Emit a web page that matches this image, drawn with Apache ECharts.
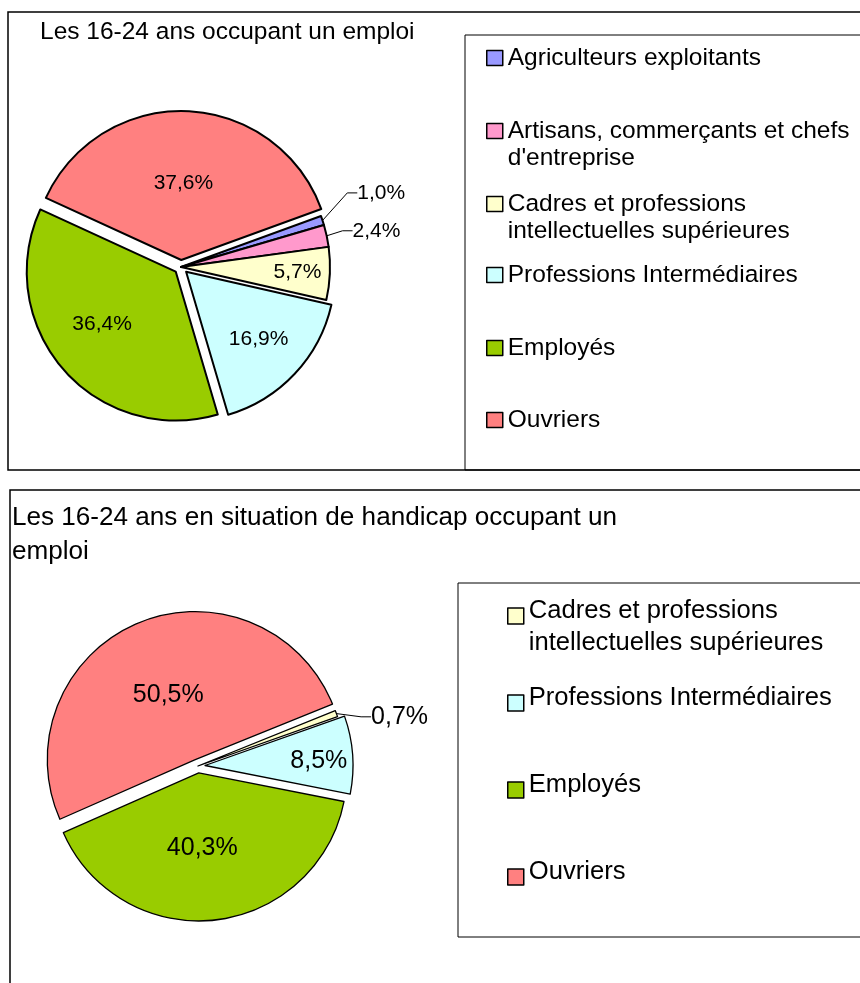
<!DOCTYPE html>
<html>
<head>
<meta charset="utf-8">
<script src="https://cdn.jsdelivr.net/npm/echarts@6/dist/echarts.min.js"></script>
<style>
  html, body { margin: 0; padding: 0; background: #fff; }
  #main { width: 860px; height: 983px; }
</style>
</head>
<body>
<div id="main"></div>
<script>
// données (en %)
var cats1 = ['Agriculteurs exploitants', "Artisans, commerçants et chefs d'entreprise", 'Cadres et professions intellectuelles supérieures', 'Professions Intermédiaires', 'Employés', 'Ouvriers'];
var vals1 = [1.0, 2.4, 5.7, 16.9, 36.4, 37.6];
var cats2 = ['Cadres et professions intellectuelles supérieures', 'Professions Intermédiaires', 'Employés', 'Ouvriers'];
var vals2 = [0.7, 8.5, 40.3, 50.5];
var title1 = 'Les 16-24 ans occupant un emploi';
var title2 = 'Les 16-24 ans en situation de handicap occupant un\nemploi';

var colors = {
  'Agriculteurs exploitants': '#9999FF',
  "Artisans, commerçants et chefs d'entreprise": '#FF99CC',
  'Cadres et professions intellectuelles supérieures': '#FFFFCC',
  'Professions Intermédiaires': '#CCFFFF',
  'Employés': '#99CC00',
  'Ouvriers': '#FF8080'
};
var exploded = ['Professions Intermédiaires', 'Employés', 'Ouvriers'];
var outside1 = ['Agriculteurs exploitants', "Artisans, commerçants et chefs d'entreprise"];
var outside2 = ['Cadres et professions intellectuelles supérieures'];
// retour a la ligne dans la légende
var wrap = {
  "Artisans, commerçants et chefs d'entreprise": ['Artisans, commerçants et chefs', "d'entreprise"],
  'Cadres et professions intellectuelles supérieures': ['Cadres et professions', 'intellectuelles supérieures']
};
// petits décalages des étiquettes (comme dans Excel)
var nudge1 = [{dx: 15, dy: -26, abs: true}, {dx: 6, dy: -4, abs: true}, {dx: 39, dy: 2}, {dx: 16, dy: 14}, {dx: -15, dy: 2}, {dx: -1, dy: 1}];
var nudge2 = [{dx: 15, dy: 5, abs: true}, {dx: 37, dy: 1}, {dx: -5, dy: -1}, {dx: 3, dy: 6}];

var FONT = "'Liberation Sans', Arial, sans-serif";

function fmtPct(v) {
  return v.toFixed(1).replace('.', ',') + '%';
}

function buildData(cats, vals, outside) {
  return cats.map(function (c, i) {
    var out = outside.indexOf(c) >= 0;
    return {
      name: c,
      value: vals[i],
      selected: exploded.indexOf(c) >= 0,
      itemStyle: { color: colors[c] },
      label: { position: out ? 'outside' : 'inside' },
      labelLine: { show: out }
    };
  });
}

function makeLayout(nudge) {
  return function (p) {
    var n = nudge[p.dataIndex];
    if (n.abs) {
      return { x: p.labelRect.x + n.dx, y: p.labelRect.y + p.labelRect.height / 2 + n.dy };
    }
    return { dx: n.dx, dy: n.dy };
  };
}

function pieSeries(data, center, radius, startAngle, fontSize, border, nudge) {
  return {
    type: 'pie',
    center: center,
    radius: radius,
    startAngle: startAngle,
    selectedMode: 'multiple',
    selectedOffset: 7,
    avoidLabelOverlap: false,
    animation: false,
    emphasis: { disabled: true },
    itemStyle: { borderColor: '#000', borderWidth: border },
    select: { itemStyle: { borderColor: '#000', borderWidth: border } },
    label: {
      show: true,
      position: 'outside',
      color: '#000',
      fontFamily: FONT,
      fontSize: fontSize,
      formatter: function (p) { return fmtPct(p.value); }
    },
    labelLine: { length: 5, length2: 10, lineStyle: { color: '#000', width: 1 } },
    labelLayout: makeLayout(nudge),
    data: data
  };
}

function legendFor(name, left, lineCenter, fontSize, lh, icon, iconW, iconH) {
  var twoLines = !!wrap[name];
  var boxH = twoLines ? lh * 3 : Math.max(lh, iconH);
  return {
    data: [name],
    left: left,
    top: lineCenter - boxH / 2,
    padding: 0,
    selectedMode: false,
    icon: icon,
    itemWidth: iconW,
    itemHeight: iconH,
    itemStyle: { borderColor: '#000', borderWidth: 1.5 },
    formatter: function (n) { return wrap[n] ? '\n' + wrap[n].join('\n') : n; },
    textStyle: { fontFamily: FONT, fontSize: fontSize, lineHeight: lh, color: '#000' }
  };
}

var legendTop = [58, 131, 204, 275, 348, 420];
var legendBot = [611, 698, 785, 872];
var legends = [];
cats1.forEach(function (c, i) {
  legends.push(legendFor(c, 486, legendTop[i], 24.5, 27, 'rect', 16, 15));
});
cats2.forEach(function (c, i) {
  legends.push(legendFor(c, 507, legendBot[i], 25.6, 32, 'path://M0,0M0,10L16,10L16,26L0,26Z', 16, 26));
});

var myChart = echarts.init(document.getElementById('main'));
myChart.setOption({
  backgroundColor: '#fff',
  animation: false,
  title: [
    { text: title1, left: 40, top: 18, padding: 0,
      textStyle: { fontFamily: FONT, fontSize: 24.5, fontWeight: 'normal', color: '#000', lineHeight: 28 } },
    { text: title2, left: 12, top: 501, padding: 0,
      textStyle: { fontFamily: FONT, fontSize: 26.1, fontWeight: 'normal', color: '#000', lineHeight: 34 } }
  ],
  legend: legends,
  graphic: [
    { type: 'rect', silent: true, shape: { x: 8, y: 12, width: 900, height: 458 }, style: { fill: 'none', stroke: '#000', lineWidth: 1.5 } },
    { type: 'rect', silent: true, shape: { x: 465, y: 35, width: 450, height: 435 }, style: { fill: 'none', stroke: '#000', lineWidth: 1 } },
    { type: 'rect', silent: true, shape: { x: 10, y: 490, width: 900, height: 600 }, style: { fill: 'none', stroke: '#000', lineWidth: 1.5 } },
    { type: 'rect', silent: true, shape: { x: 458, y: 583, width: 450, height: 354 }, style: { fill: 'none', stroke: '#000', lineWidth: 1 } }
  ],
  series: [
    pieSeries(buildData(cats1, vals1, outside1), [181, 267], 149, 20, 21, 2, nudge1),
    pieSeries(buildData(cats2, vals2, outside2), [198, 766], 148, 22, 25, 1.3, nudge2)
  ]
});
</script>
</body>
</html>
